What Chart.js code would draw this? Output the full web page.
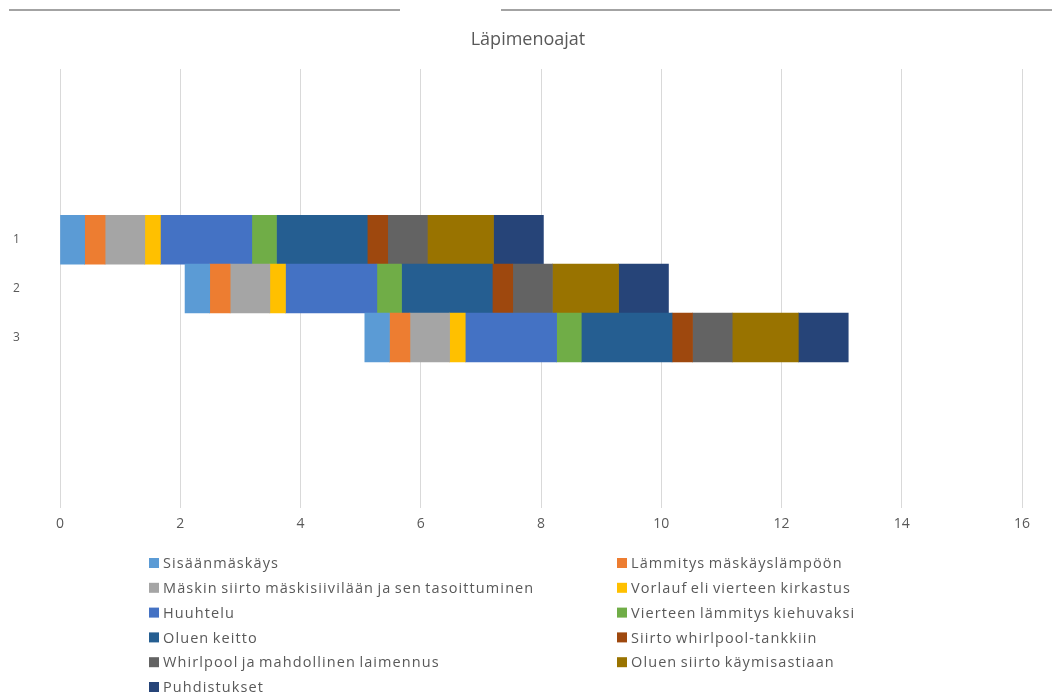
<!DOCTYPE html>
<html lang="fi">
<head>
<meta charset="utf-8">
<title>Läpimenoajat</title>
<script src="https://cdn.jsdelivr.net/npm/chart.js@4.4.0/dist/chart.umd.min.js"></script>
<style>
  html, body { margin: 0; padding: 0; background: #fff; }
  #wrap { width: 1055px; height: 695px; position: relative; }
</style>
</head>
<body>
<div id="wrap"><canvas id="lapimeno"></canvas></div>
<script>
// erät ja niiden aloitusajat (h)
const erat = ['1', '2', '3'];
const alkuajat = [0, 2.08, 5.07];

// vaiheiden kestot tunteina, erä kerrallaan
const sisaanmaskays = [0.41, 0.41, 0.41];
const lammitysMaskays = [0.34, 0.34, 0.34];
const maskinSiirto = [0.66, 0.66, 0.66];
const vorlauf = [0.26, 0.26, 0.26];
const huuhtelu = [1.52, 1.52, 1.52];
const vierteenLammitys = [0.41, 0.41, 0.41];
const oluenKeitto = [1.51, 1.51, 1.51];
const siirtoWhirlpool = [0.34, 0.34, 0.34];
const whirlpool = [0.66, 0.66, 0.66];
const oluenSiirto = [1.1, 1.1, 1.1];
const puhdistukset = [0.83, 0.83, 0.83];

// x-akselin jako
const xMin = 0, xMax = 16, xVali = 2;

// tyhjät rivit erien ylä- ja alapuolella
const tyhjat = ['', '', ''];
const tayta = arr => [...tyhjat.map(() => null), ...arr, ...tyhjat.map(() => null)];

const vaiheet = [
  ['Sisäänmäskäys', sisaanmaskays, '#5B9BD5'],
  ['Lämmitys mäskäyslämpöön', lammitysMaskays, '#ED7D31'],
  ['Mäskin siirto mäskisiivilään ja sen tasoittuminen', maskinSiirto, '#A5A5A5'],
  ['Vorlauf eli vierteen kirkastus', vorlauf, '#FFC000'],
  ['Huuhtelu', huuhtelu, '#4472C4'],
  ['Vierteen lämmitys kiehuvaksi', vierteenLammitys, '#70AD47'],
  ['Oluen keitto', oluenKeitto, '#255E91'],
  ['Siirto whirlpool-tankkiin', siirtoWhirlpool, '#9E480E'],
  ['Whirlpool ja mahdollinen laimennus', whirlpool, '#636363'],
  ['Oluen siirto käymisastiaan', oluenSiirto, '#997300'],
  ['Puhdistukset', puhdistukset, '#264478']
];

const datasets = [{
  label: 'alku',
  data: tayta(alkuajat),
  backgroundColor: 'rgba(0,0,0,0)',
  piilota: true
}];
vaiheet.forEach(v => {
  datasets.push({ label: v[0], data: tayta(v[1]), backgroundColor: v[2] });
});

// yläreunan viiva ja otsikko
const otsikko = {
  id: 'otsikko',
  beforeDraw(chart, args, opts) {
    const ctx = chart.ctx;
    ctx.save();
    ctx.strokeStyle = '#a3a3a3';
    ctx.lineWidth = 2;
    ctx.beginPath();
    ctx.moveTo(9, 10); ctx.lineTo(400, 10);
    ctx.moveTo(501, 10); ctx.lineTo(1052, 10);
    ctx.stroke();
    ctx.font = '18px "Open Sans"';
    ctx.fillStyle = '#595959';
    ctx.textAlign = 'center';
    ctx.textBaseline = 'middle';
    ctx.fillText(opts.teksti, opts.x, opts.y);
    ctx.restore();
  }
};

// selite kahteen sarakkeeseen
const selite = {
  id: 'selite',
  afterDraw(chart, args, opts) {
    const ctx = chart.ctx;
    const items = chart.data.datasets.filter(d => !d.piilota);
    ctx.save();
    ctx.font = '14.5px "Open Sans"';
    ctx.letterSpacing = '1.1px';
    ctx.wordSpacing = '-1.5px';
    ctx.textBaseline = 'middle';
    items.forEach((ds, i) => {
      const x = opts.sarakkeet[i % 2];
      const y = opts.ylin + Math.floor(i / 2) * opts.rivivali;
      ctx.fillStyle = ds.backgroundColor;
      ctx.fillRect(x, y - 5, 10, 10);
      ctx.fillStyle = '#595959';
      ctx.fillText(ds.label, x + 14, y + 1);
    });
    ctx.restore();
  }
};

new Chart(document.getElementById('lapimeno'), {
  type: 'bar',
  data: { labels: [...tyhjat, ...erat, ...tyhjat], datasets: datasets },
  plugins: [otsikko, selite],
  options: {
    indexAxis: 'y',
    responsive: true,
    maintainAspectRatio: false,
    animation: false,
    categoryPercentage: 1,
    barPercentage: 1,
    layout: { padding: { top: 69, right: 33, bottom: 156, left: 13 } },
    plugins: {
      legend: { display: false },
      tooltip: { enabled: false },
      title: { display: false },
      otsikko: { teksti: 'Läpimenoajat', x: 528, y: 40 },
      selite: { sarakkeet: [149, 617], ylin: 563, rivivali: 24.8 }
    },
    scales: {
      x: {
        stacked: true,
        min: xMin,
        max: xMax,
        ticks: {
          stepSize: xVali,
          color: '#595959',
          font: { family: 'Open Sans', size: 14 },
          padding: 7
        },
        grid: { color: '#d9d9d9', drawTicks: false },
        border: { display: false }
      },
      y: {
        stacked: true,
        grid: { display: false },
        border: { display: false },
        ticks: {
          color: '#595959',
          font: { family: 'Open Sans', size: 12 },
          crossAlign: 'far',
          padding: 0
        },
        afterFit(scale) { scale.width = 47; }
      }
    }
  }
});
</script>
</body>
</html>
